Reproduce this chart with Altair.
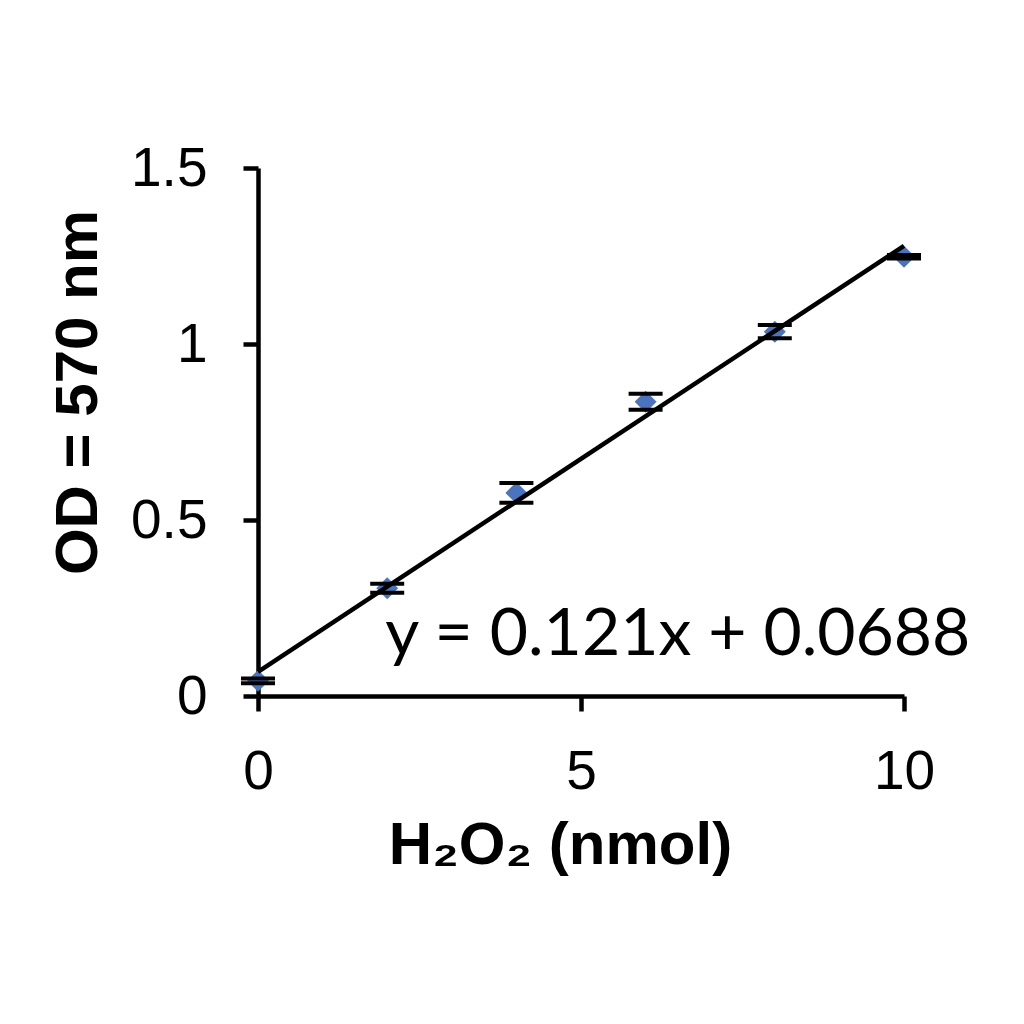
import altair as alt
import pandas as pd

# data
h2o2_nmol = [0, 2, 4, 6, 8, 10]
od570 = [0.043, 0.306, 0.577, 0.836, 1.035, 1.248]
od_err = [0.007, 0.013, 0.028, 0.023, 0.019, 0.005]

trend_x = [0, 10]
trend_y = [0.0688, 1.2788]

equation = "y = 0.121x + 0.0688"
eq_x = [1.97]
eq_y = [0.117]

x_ticks = [0, 5, 10]
y_ticks = [0, 0.5, 1, 1.5]

pts = pd.DataFrame({
    "x": h2o2_nmol,
    "y": od570,
    "lo": [a - b for a, b in zip(od570, od_err)],
    "hi": [a + b for a, b in zip(od570, od_err)],
})
trend = pd.DataFrame({"x": trend_x, "y": trend_y})
eq = pd.DataFrame({"x": eq_x, "y": eq_y, "t": [equation]})

xscale = alt.Scale(domain=[0, 10], nice=False, zero=False)
yscale = alt.Scale(domain=[0, 1.5], nice=False, zero=False)

xaxis = alt.Axis(
    values=x_ticks, title="H₂O₂ (nmol)", labelExpr="'' + datum.value",
    titleX=302, titleY=167, titleAlign="center", titleBaseline="alphabetic",
    labelPadding=34, labelOverlap=False, labelFlush=False,
)
yaxis = alt.Axis(
    values=y_ticks, title="OD = 570 nm", labelExpr="'' + datum.value",
    titleX=-180, titleY=224, titleAngle=270, titleAlign="center", titleBaseline="middle",
    labelPadding=36, labelOverlap=False, labelFlush=False,
)

base = alt.Chart(pts)

markers = base.mark_point(shape="diamond", filled=True, color="#4a74c0", size=480, opacity=1).encode(
    x=alt.X("x:Q", scale=xscale, axis=xaxis),
    y=alt.Y("y:Q", scale=yscale, axis=yaxis),
)
stems = base.mark_rule(color="black", strokeWidth=3, opacity=1).encode(
    x="x:Q", y="lo:Q", y2="hi:Q"
)
cap_lo = base.mark_tick(color="black", orient="horizontal", size=34, thickness=4, opacity=1).encode(
    x="x:Q", y="lo:Q"
)
cap_hi = base.mark_tick(color="black", orient="horizontal", size=34, thickness=4, opacity=1).encode(
    x="x:Q", y="hi:Q"
)
line = alt.Chart(trend).mark_line(color="black", strokeWidth=4.5).encode(
    x="x:Q", y="y:Q"
)
label = alt.Chart(eq).mark_text(
    align="left", baseline="alphabetic", font="Lato", fontSize=66, color="black"
).encode(x="x:Q", y="y:Q", text="t:N")

chart = alt.layer(stems, markers, cap_lo, cap_hi, line, label).properties(
    width=646, height=528,
    autosize=alt.AutoSizeParams(type="none"),
    padding={"left": 250, "top": 160, "right": 110, "bottom": 200},
).configure_view(stroke=None).configure_axis(
    grid=False, domainColor="black", domainWidth=4.5, tickColor="black", tickWidth=4.5,
    tickSize=15, labelFont="Liberation Sans", labelFontSize=55, labelColor="black",
    titleFont="Liberation Sans", titleFontSize=60, titleFontWeight="bold", titleColor="black",
)

chart.save("out.html", embed_options={"renderer": "svg", "actions": False})
